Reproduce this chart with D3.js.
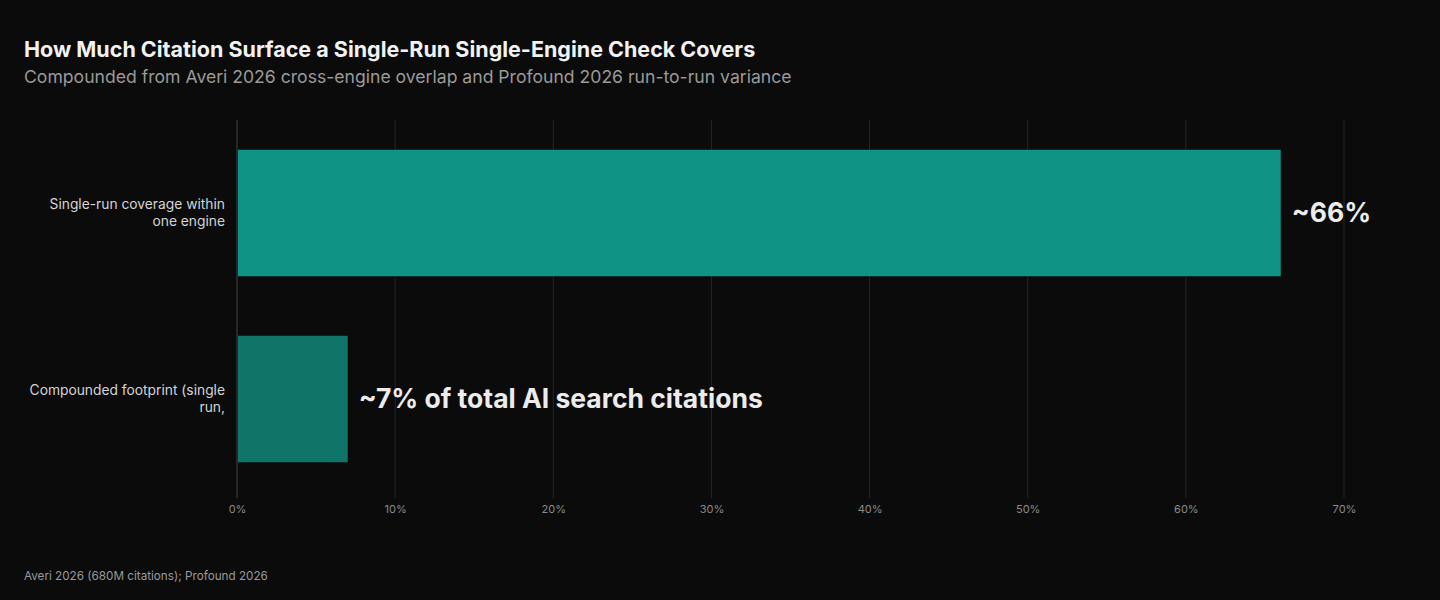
<!DOCTYPE html>
<html>
<head>
	<meta charset="utf-8">
	<title>citation surface</title>
	<script type="text/javascript" src="https://cdn.jsdelivr.net/npm/d3@7"></script>
	<style type="text/css">
		body{margin:0;background:#0b0b0b;}
		svg{display:block;font-family:Inter,"Noto Sans",sans-serif;}
	</style>
</head>
<body>
	<script type="text/javascript">
		var categories=[
				["Single-run coverage within","one engine"],
				["Compounded footprint (single","run,"]
			],
			values=[66,7],
			valueLabels=["~66%","~7% of total AI search citations"],
			barColors=["#0e9384","#107569"],
			ticks=[0,10,20,30,40,50,60,70];
		var width=1440,
			height=600,
			plotLeft=237,
			plotRight=1344,
			plotTop=120,
			plotBottom=492;

		var svg=d3.select("body")
				.append("svg")
				.attr("width", width)
				.attr("height", height);
		svg.append("rect")
			.attr("width", width)
			.attr("height", height)
			.attr("fill", "#0b0b0b");

		var x=d3.scaleLinear().domain([0,70]).range([plotLeft,plotRight]);
		var y=d3.scaleBand().domain(d3.range(values.length)).range([plotTop,plotBottom]).paddingInner(0.32).paddingOuter(0.16);

		//titles
		svg.append("text")
			.attr("x", 24).attr("y", 57)
			.attr("fill", "#f2f2f2")
			.attr("font-size", 21.5)
			.attr("font-weight", 700)
			.text("How Much Citation Surface a Single-Run Single-Engine Check Covers");
		svg.append("text")
			.attr("x", 24).attr("y", 83)
			.attr("fill", "#9a9a9a")
			.attr("font-size", 17.6)
			.text("Compounded from Averi 2026 cross-engine overlap and Profound 2026 run-to-run variance");

		//grid
		var grid=svg.append("g");
		grid.selectAll("line")
			.data(ticks)
			.enter()
			.append("line")
			.attr("x1", function (d) { return x(d); })
			.attr("x2", function (d) { return x(d); })
			.attr("y1", plotTop)
			.attr("y2", 498)
			.attr("stroke", function (d) { return d==0 ? "#444" : "#262626"; })
			.attr("stroke-width", 1);

		var xAxis=svg.append("g")
			.attr("transform", "translate(0,498)")
			.call(d3.axisBottom(x).tickValues(ticks).tickSize(0).tickPadding(7).tickFormat(function (d) { return d+"%"; }));
		xAxis.select(".domain").remove();
		xAxis.selectAll("text")
			.attr("fill", "#8a8a8a")
			.attr("font-size", 11)
			.attr("font-family", "Inter, sans-serif");

		//bars
		svg.selectAll(".bar")
			.data(values)
			.enter()
			.append("rect")
			.attr("class", "bar")
			.attr("x", x(0)+1)
			.attr("y", function (d, i) { return y(i); })
			.attr("width", function (d) { return x(d)-x(0)-1; })
			.attr("height", y.bandwidth())
			.attr("fill", function (d, i) { return barColors[i]; });

		//category labels
		var cat=svg.selectAll(".cat")
			.data(categories)
			.enter()
			.append("text")
			.attr("class", "cat")
			.attr("text-anchor", "end")
			.attr("fill", "#d4d4d4")
			.attr("font-size", 13.8);
		cat.selectAll("tspan")
			.data(function (d, i) {
				return d.map(function (t, k) { return {t: t, k: k, n: d.length, i: i}; });
			})
			.enter()
			.append("tspan")
			.attr("x", 225)
			.attr("y", function (d) {
				var c=y(d.i)+y.bandwidth()/2;
				return c+(d.k-(d.n-1)/2)*17+4.5;
			})
			.text(function (d) { return d.t; });

		//value labels
		svg.selectAll(".val")
			.data(values)
			.enter()
			.append("text")
			.attr("class", "val")
			.attr("x", function (d) { return x(d)+11; })
			.attr("y", function (d, i) { return y(i)+y.bandwidth()/2+9; })
			.attr("fill", "#ececec")
			.attr("font-size", 26.5)
			.attr("font-weight", 700)
			.text(function (d, i) { return valueLabels[i]; });

		svg.append("text")
			.attr("x", 24).attr("y", 580)
			.attr("fill", "#9a9a9a")
			.attr("font-size", 11.7)
			.text("Averi 2026 (680M citations); Profound 2026");
	</script>
</body>
</html>
